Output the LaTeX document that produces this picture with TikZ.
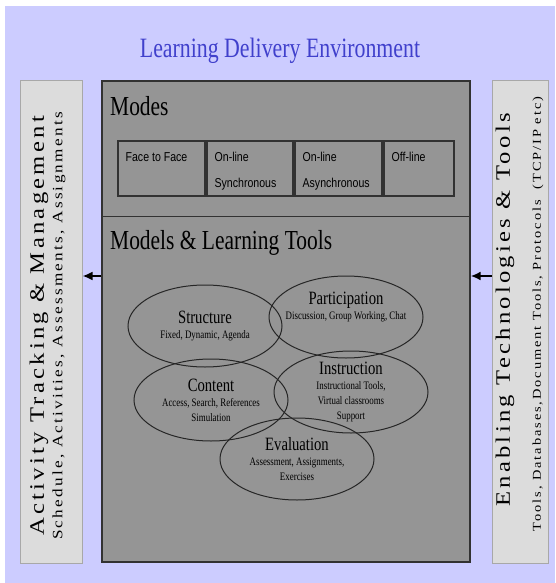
\documentclass[tikz,border=0pt]{standalone}
\usepackage{fontspec}
\setmainfont{Liberation Serif}[FakeStretch=0.78]
\setsansfont{Liberation Sans}[FakeStretch=0.82]
\newfontfamily\sidefont{Liberation Serif}[FakeStretch=1.2, LetterSpace=16]
\usetikzlibrary{arrows.meta,shapes.geometric}
\definecolor{lavender}{RGB}{204,204,255}
\definecolor{boxgray}{RGB}{149,149,149}
\definecolor{framegray}{RGB}{50,50,50}
\definecolor{panelgray}{RGB}{220,220,220}
\definecolor{panelline}{RGB}{168,168,168}
\definecolor{titleblue}{RGB}{64,64,204}
\newcommand\modeltitle[1]{{\fontsize{18.8}{20}\selectfont #1}}
\begin{document}
\begin{tikzpicture}[x=1pt, y=-1pt,
  frame/.style={draw=framegray, fill=boxgray, line width=1.2pt, inner sep=0},
  panel/.style={draw=panelline, fill=panelgray, line width=1pt, inner sep=0, minimum height=482},
  modebox/.style={draw=framegray, line width=1.1pt, minimum height=55, inner sep=0},
  modetext/.style={anchor=north west, align=left, inner xsep=8pt, inner ysep=11.5pt, font=\sffamily\fontsize{12.9}{26}\selectfont},
  model/.style={ellipse, draw=black!85, line width=1pt, minimum width=154, minimum height=82, inner sep=0},
  modeltext/.style={align=center, inner sep=0, font=\fontsize{11.4}{15}\selectfont},
  head/.style={anchor=base west, inner sep=0, font=\fontsize{27.5}{30}\selectfont},
  sidehead/.style={rotate=90, inner sep=0, font=\sidefont\fontsize{20.5}{24}\selectfont},
  sidenote/.style={rotate=90, inner sep=0, font=\sidefont\fontsize{14.3}{16}\selectfont},
  feed/.style={-{Latex[length=10pt,width=9pt]}, line width=2pt}]

\useasboundingbox (0,0) rectangle (555,583);
\fill[white] (0,0) rectangle (555,583);
\fill[lavender] (5,6) rectangle (555,583);

\node[anchor=base, inner sep=0, text=titleblue, font=\fontsize{28}{30}\selectfont] (env) at (280,57.5) {Learning Delivery Environment};

% side panels
\node[panel, minimum width=62] (track) at (51,322) {};
\node[sidehead] (trackhead) at (39,326) {Activity Tracking \& Management};
\node[sidenote] (tracknote) at (59,326) {Schedule, Activities, Assessments, Assignments};

\node[panel, minimum width=56] (tech) at (520,322) {};
\node[sidehead] (techhead) at (505,310) {Enabling Technologies \& Tools};
\node[sidenote, font=\sidefont\fontsize{12}{14}\selectfont] (technote) at (538,314) {Tools, Databases,Document Tools, Protocols\ \ (TCP/IP etc)};

% main box
\node[frame, minimum width=368, minimum height=481] (main) at (286,321.5) {};
\coordinate (split) at (0,216);
\draw[draw=framegray, line width=1pt] (main.west |- split) -- (main.east |- split);

\node[head] (modes) at (110,115) {Modes};
\node[modebox, minimum width=87] (f2f) at (161.5,168.5) {};
\node[modebox, minimum width=86] (sync) at (250,168.5) {};
\node[modebox, minimum width=87] (async) at (338.5,168.5) {};
\node[modebox, minimum width=70] (offline) at (419,168.5) {};
\node[modetext] (f2ftext) at (f2f.north west) {Face to Face};
\node[modetext] (synctext) at (sync.north west) {On-line\\Synchronous};
\node[modetext] (asynctext) at (async.north west) {On-line\\Asynchronous};
\node[modetext] (offlinetext) at (offline.north west) {Off-line};

\node[head] (models) at (110,249) {Models \& Learning Tools};

\node[model] (structure) at (205,326) {};
\node[model] (participation) at (346,317) {};
\node[model] (content) at (211,400) {};
\node[model] (instruction) at (351,392) {};
\node[model] (evaluation) at (297,459) {};

\node[modeltext] (structuretext) at (structure) {\modeltitle{Structure}\\Fixed, Dynamic, Agenda};
\node[modeltext] (participationtext) at ([yshift=10pt]participation.center) {\modeltitle{Participation}\\Discussion, Group Working, Chat};
\node[modeltext] (contenttext) at (content) {\modeltitle{Content}\\Access, Search, References\\Simulation};
\node[modeltext] (instructiontext) at (instruction) {\modeltitle{Instruction}\\Instructional Tools,\\Virtual classrooms\\Support};
\node[modeltext] (evaluationtext) at (evaluation) {\modeltitle{Evaluation}\\Assessment, Assignments,\\Exercises};

% feeds
\coordinate (feedlevel) at (0,276);
\draw[feed] (main.west |- feedlevel) -- (track.east |- feedlevel);
\draw[feed] (tech.west |- feedlevel) -- (main.east |- feedlevel);

\end{tikzpicture}
\end{document}
